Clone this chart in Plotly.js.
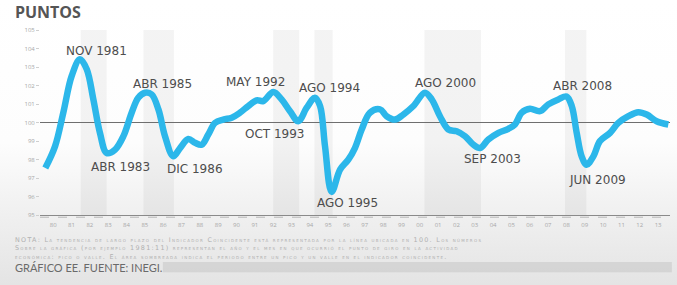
<!DOCTYPE html>
<html>
<head>
<meta charset="utf-8">
<script src="https://cdn.plot.ly/plotly-3.0.1.min.js"></script>
<style>
  html, body { margin: 0; padding: 0; }
  body { width: 677px; height: 285px; overflow: hidden;
         background: linear-gradient(to bottom, #ffffff 0%, #fdfdfd 50%, #f0f0f0 75%, #e4e4e4 100%); }
  #chart { width: 677px; height: 285px; }
  .annotation[data-index="12"] text { letter-spacing: 1.3px; }
</style>
</head>
<body>
<div id="chart"></div>
<script>
// Decimal-year positions of the coincident indicator (Jan 1980 = 1980.0)
const fechas = [1979.9, 1980.43, 1980.88, 1981.34, 1981.79, 1982.16, 1982.52, 1982.88, 1983.25, 1983.70,
  1984.16, 1984.61, 1984.97, 1985.34, 1985.70, 1986.07, 1986.43, 1986.88, 1987.25, 1987.70,
  1988.07, 1988.43, 1988.79, 1989.16, 1989.61, 1990.07, 1990.52, 1990.97, 1991.43, 1991.79,
  1992.34, 1992.79, 1993.25, 1993.70, 1994.16, 1994.61, 1994.89, 1995.16, 1995.52, 1995.98,
  1996.43, 1996.79, 1997.16, 1997.61, 1998.16, 1998.52, 1998.98, 1999.43, 1999.98, 2000.61,
  2000.98, 2001.43, 2001.89, 2002.34, 2002.80, 2003.25, 2003.62, 2004.07, 2004.62, 2005.16,
  2005.52, 2005.89, 2006.34, 2006.89, 2007.34, 2007.89, 2008.34, 2008.62, 2008.89, 2009.16,
  2009.43, 2009.80, 2010.16, 2010.71, 2011.16, 2011.71, 2012.25, 2012.71, 2013.25, 2013.89];
const puntos = [97.54, 98.71, 100.53, 102.52, 103.42, 102.88, 101.25, 99.44, 98.35, 98.53,
  99.26, 100.53, 101.34, 101.61, 101.52, 100.71, 99.26, 98.17, 98.62, 99.11,
  98.90, 98.80, 99.35, 99.98, 100.16, 100.26, 100.53, 100.89, 101.20, 101.16,
  101.65, 101.25, 100.61, 100.07, 100.80, 101.34, 100.89, 98.71, 96.25, 97.45,
  97.99, 98.62, 99.62, 100.53, 100.71, 100.34, 100.16, 100.43, 100.89, 101.61,
  101.25, 100.34, 99.62, 99.53, 99.26, 98.80, 98.62, 99.08, 99.44, 99.66,
  99.89, 100.53, 100.74, 100.61, 100.98, 101.25, 101.40, 100.89, 99.44, 98.17,
  97.72, 98.17, 99.00, 99.44, 99.98, 100.34, 100.56, 100.43, 100.07, 99.89];

// Turning points (peak -> trough), shaded periods
const picos   = [1981.83, 1985.25, 1992.33, 1994.58, 2000.58, 2008.25];
const valles  = [1983.25, 1986.92, 1993.75, 1995.58, 2003.67, 2009.42];

// Turning-point labels and their positions
const etiquetas  = ['NOV 1981', 'ABR 1983', 'ABR 1985', 'DIC 1986', 'MAY 1992', 'OCT 1993',
                    'AGO 1994', 'AGO 1995', 'AGO 2000', 'SEP 2003', 'ABR 2008', 'JUN 2009'];
const etiquetasX = [1982.70, 1983.98, 1986.32, 1988.07, 1991.34, 1992.43,
                    1995.43, 1996.41, 2001.71, 2004.27, 2009.23, 2010.00];
const etiquetasY = [103.88, 97.57, 102.07, 97.50, 102.19, 99.40,
                    101.85, 95.65, 102.12, 98.04, 101.97, 96.90];

// Axis ticks
const anios = [];
for (let a = 1980; a <= 2013; a++) anios.push(a);
const tickPos = anios.map(a => a + 0.33);
const tickTxt = anios.map(a => String(a).slice(2));
const yTicks = [95, 96, 97, 98, 99, 100, 101, 102, 103, 104, 105];

const notas = [
  'NOTA: La tendencia de largo plazo del Indicador Coincidente está representada por la línea ubicada en 100. Los números',
  'Sobre la gráfica (por ejemplo 1981:11) representan el año y el mes en que ocurrió el punto de giro en la actividad',
  'económica: pico o valle. El área sombreada indica el periodo entre un pico y un valle en el indicador coincidente.'
];
const fuente = 'GRÁFICO EE. FUENTE: INEGI.';

const shapes = picos.map((p, i) => ({
  type: 'rect', xref: 'x', yref: 'paper', x0: p, x1: valles[i], y0: 0, y1: 1,
  fillcolor: 'rgba(0,0,0,0.045)', line: { width: 0 }, layer: 'below'
}));
shapes.push({ type: 'line', xref: 'paper', yref: 'y', x0: 0, x1: 1, y0: 100, y1: 100,
  line: { color: '#6f6f6f', width: 1 }, layer: 'below' });
shapes.push({ type: 'line', xref: 'paper', yref: 'paper', x0: 0, x1: 1, y0: -0.012, y1: -0.012,
  line: { color: '#b8b8b8', width: 1, dash: 'dash' } });
shapes.push({ type: 'rect', xref: 'paper', yref: 'paper', x0: 0.195, x1: 1.003, y0: -0.254, y1: -0.31,
  fillcolor: 'rgba(190,190,190,0.45)', line: { width: 0 } });

const annotations = etiquetas.map((t, i) => ({
  x: etiquetasX[i], y: etiquetasY[i], xref: 'x', yref: 'y', text: t, showarrow: false,
  xanchor: 'center', yanchor: 'middle',
  font: { family: 'DejaVu Sans, sans-serif', size: 12, color: '#4d4d4d' }
}));
annotations.push({
  x: -0.043, y: -0.10, xref: 'paper', yref: 'paper', text: notas.join('<br>'), showarrow: false,
  xanchor: 'left', yanchor: 'top', align: 'left',
  font: { family: 'DejaVu Sans, sans-serif', size: 6.4, color: '#b0b0b0', variant: 'small-caps' }
});
annotations.push({
  x: -0.043, y: -0.282, xref: 'paper', yref: 'paper', text: fuente, showarrow: false,
  xanchor: 'left', yanchor: 'middle',
  font: { family: 'Lato, sans-serif', size: 11, color: '#6a6a6a' }
});

const trace = {
  x: fechas, y: puntos, type: 'scatter', mode: 'lines',
  line: { color: '#2cb7ea', width: 6.5, shape: 'spline', smoothing: 1 },
  hoverinfo: 'skip'
};

const layout = {
  width: 677, height: 285,
  margin: { l: 40, r: 7, t: 30, b: 70 },
  paper_bgcolor: 'rgba(0,0,0,0)', plot_bgcolor: 'rgba(0,0,0,0)',
  showlegend: false,
  title: { text: '<b>PUNTOS</b>', xref: 'container', yref: 'container', x: 0.022, y: 0.958,
           xanchor: 'left', yanchor: 'middle',
           font: { family: 'Open Sans, sans-serif', size: 16, color: '#555555' } },
  xaxis: {
    range: [1979.61, 2013.98], showgrid: false, zeroline: false,
    showline: true, linecolor: '#8a8a8a', linewidth: 1,
    tickmode: 'array', tickvals: tickPos, ticktext: tickTxt,
    ticks: '', ticklabelstandoff: 4,
    tickfont: { family: 'Open Sans, sans-serif', size: 6, color: '#a8a8a8' }
  },
  yaxis: {
    range: [95, 105], showgrid: false, zeroline: false, showline: false,
    tickmode: 'array', tickvals: yTicks, ticktext: yTicks.map(String),
    ticks: 'outside', ticklen: 3, tickcolor: '#cfcfcf',
    tickfont: { family: 'Open Sans, sans-serif', size: 6, color: '#a8a8a8' }
  },
  shapes: shapes,
  annotations: annotations
};

Plotly.newPlot('chart', [trace], layout, { staticPlot: true, displayModeBar: false });
</script>
</body>
</html>
